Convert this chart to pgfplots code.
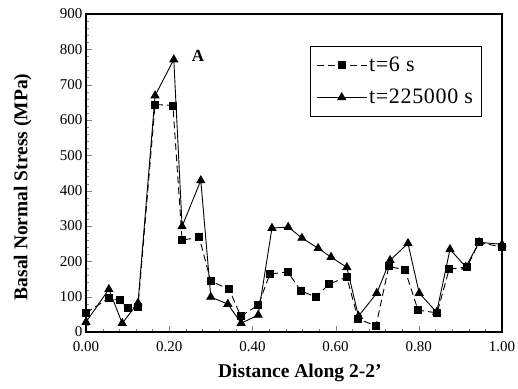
\documentclass[border=0pt]{standalone}
\usepackage{fontspec}
\setmainfont{Liberation Serif}
\usepackage{pgfplots}
\pgfplotsset{compat=1.18}
\begin{document}
\begin{tikzpicture}
\useasboundingbox (-86pt,-56pt) rectangle (432pt,332pt);
\begin{axis}[
  at={(0,0)}, anchor=south west,
  scale only axis, width=416pt, height=318pt,
  xmin=0, xmax=1, ymin=0, ymax=900,
  xtick={0,0.2,0.4,0.6,0.8,1.0},
  ytick={0,100,...,900},
  minor x tick num=4, minor y tick num=4,
  tick align=inside, xtick pos=bottom, ytick pos=left,
  major tick length=6pt, minor tick length=3pt,
  /pgf/number format/assume math mode=true,
  xticklabel style={/pgf/number format/.cd, fixed, fixed zerofill, precision=2, /tikz/yshift=-6pt},
  yticklabel style={/pgf/number format/fixed},
  tick label style={font=\fontsize{15}{17}\selectfont},
  axis line style={line width=1.1pt},
  xlabel={Distance Along 2-2'},
  ylabel={Basal Normal Stress (MPa)},
  xlabel style={font=\fontsize{19.5}{21}\selectfont\bfseries, at={(axis description cs:0.514,-0.13)}, anchor=center},
  ylabel style={font=\fontsize{19.5}{21}\selectfont\bfseries, at={(axis description cs:-0.152,0.456)}, anchor=center},
  legend style={at={(0.538,0.90)}, anchor=north west, draw=black, line width=0.9pt,
    font=\fontsize{22}{24}\selectfont\addfontfeature{LetterSpace=3}, inner xsep=6pt, inner ysep=9pt, row sep=12pt},
  legend cell align=left,
  legend image code/.code={\draw[#1] (0pt,0pt) -- (50pt,0pt); \draw[#1, only marks, solid] plot coordinates {(25pt,0pt)};},
]
\addplot[black, line width=0.9pt, dash pattern=on 7pt off 4pt, mark=square*, mark size=3.5pt, mark options={solid}]
coordinates {
(0.000,54) (0.055,96) (0.082,90) (0.100,68) (0.125,71) (0.166,644) (0.209,641)
(0.231,260) (0.272,268) (0.300,144) (0.344,121) (0.372,45) (0.414,76)
(0.442,164) (0.485,170) (0.517,116) (0.553,99) (0.584,136) (0.627,155)
(0.654,37) (0.697,17) (0.728,186) (0.767,175) (0.798,62) (0.844,54)
(0.873,178) (0.916,184) (0.945,254) (1.000,240)
};
\addlegendentry{t=6 s}
\addplot[black, line width=0.9pt, mark=triangle*, mark size=4.5pt]
coordinates {
(0.000,28) (0.055,121) (0.087,25) (0.125,82) (0.166,669) (0.211,771)
(0.231,299) (0.276,429) (0.300,99) (0.341,79) (0.373,25) (0.414,48)
(0.447,294) (0.486,297) (0.519,266) (0.558,237) (0.589,212) (0.627,183)
(0.655,45) (0.699,110) (0.731,203) (0.774,251) (0.801,110) (0.843,56)
(0.875,234) (0.913,184) (0.945,254) (1.000,248)
};
\addlegendentry{t=225000 s}
\node[font=\fontsize{17}{19}\selectfont\bfseries] at (axis cs:0.269,782) {A};
\end{axis}
\end{tikzpicture}
\end{document}
